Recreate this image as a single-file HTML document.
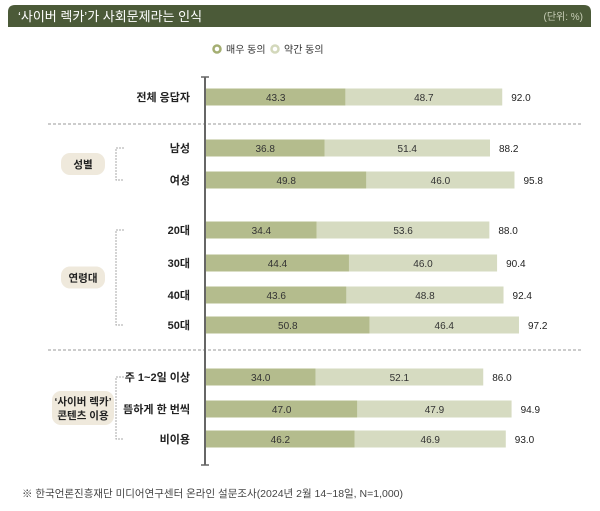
<!DOCTYPE html>
<html><head><meta charset="utf-8"><style>
body{margin:0;background:#fff;font-family:"Liberation Sans","Noto Sans CJK KR",sans-serif;}
svg text{font-family:"Liberation Sans","Noto Sans CJK KR",sans-serif;}
</style></head><body>
<svg width="600" height="506">
<path d="M8,27 L8,12 Q8,5 15,5 L584,5 Q591,5 591,12 L591,27 Z" fill="#4b5a38"/>
<text x="18" y="21" font-size="13" fill="#fff">‘사이버 렉카’가 사회문제라는 인식</text>
<text x="583" y="20" font-size="10" fill="#c9cfb8" text-anchor="end">(단위: %)</text>
<g>
<circle cx="217" cy="49" r="3.5" fill="none" stroke="#a4ae72" stroke-width="2.5"/>
<text x="226" y="53" font-size="10" fill="#333">매우 동의</text>
<circle cx="275" cy="49" r="3.5" fill="none" stroke="#d3d8bb" stroke-width="2.5"/>
<text x="284" y="53" font-size="10" fill="#333">약간 동의</text>
</g>
<g id="bars"></g>
<g id="deco"></g>
<line x1="205" y1="77" x2="205" y2="465" stroke="#666" stroke-width="2"/>
<line x1="201" y1="77" x2="209" y2="77" stroke="#666" stroke-width="1.5"/>
<line x1="201" y1="465" x2="209" y2="465" stroke="#666" stroke-width="1.5"/>
<text x="22" y="497" font-size="10.5" fill="#444">※ 한국언론진흥재단 미디어연구센터 온라인 설문조사(2024년 2월 14~18일, N=1,000)</text>
</svg>
<script>
const categories=["전체 응답자","남성","여성","20대","30대","40대","50대","주 1~2일 이상","뜸하게 한 번씩","비이용"];
const strongAgree=[43.3,36.8,49.8,34.4,44.4,43.6,50.8,34.0,47.0,46.2];
const someAgree=[48.7,51.4,46.0,53.6,46.0,48.8,46.4,52.1,47.9,46.9];
const totals=[92.0,88.2,95.8,88.0,90.4,92.4,97.2,86.0,94.9,93.0];
const rowY=[97,148,180,230,263,295,325,377,409,439];
const x0=206, scale=3.22, bh=17;
const xs=v=>x0+v*scale;
const NS="http://www.w3.org/2000/svg";
const g=document.getElementById('bars');
function mk(tag,attrs,parent){const e=document.createElementNS(NS,tag);for(const k in attrs)e.setAttribute(k,attrs[k]);parent.appendChild(e);return e;}
categories.forEach((c,i)=>{
 const y=rowY[i];
 const t=mk('text',{x:190,y:y+4,'font-size':11,'font-weight':'bold',fill:'#222','text-anchor':'end'},g);
 t.textContent=c;
 
 
 const a=mk('rect',{x:x0,y:y-bh/2,width:xs(strongAgree[i])-x0,height:bh,fill:'#b4bc8d'},g);
 
 
 const b=mk('rect',{x:xs(strongAgree[i]),y:y-bh/2,width:someAgree[i]*scale,height:bh,fill:'#d6dbc1'},g);
 
 
 const ta=mk('text',{x:(x0+xs(strongAgree[i]))/2,y:y+4,'font-size':10,fill:'#333','text-anchor':'middle'},g);
 ta.textContent=strongAgree[i].toFixed(1);
 
 
 const tb=mk('text',{x:xs(strongAgree[i]+someAgree[i]/2),y:y+4,'font-size':10,fill:'#333','text-anchor':'middle'},g);
 tb.textContent=someAgree[i].toFixed(1);
 
 
 const tt=mk('text',{x:xs(strongAgree[i]+someAgree[i])+9,y:y+4,'font-size':10,fill:'#222'},g);
 tt.textContent=totals[i].toFixed(1);
 
 
});
const d=document.getElementById('deco');
[124,350].forEach(y=>{
 const l=mk('line',{x1:48,y1:y,x2:582,y2:y,stroke:'#999','stroke-dasharray':'3,2','stroke-width':1},d);
 
 
});
const groups=[{lines:["성별"],y1:148,y2:180},{lines:["연령대"],y1:230,y2:325},{lines:["‘사이버 렉카’","콘텐츠 이용"],y1:377,y2:439}];
groups.forEach(gr=>{
 const p=mk('path',{d:`M124,${gr.y1} L116,${gr.y1} L116,${gr.y2} L124,${gr.y2}`,fill:'none',stroke:'#aaa','stroke-dasharray':'2,1'},d);
 
 
 const cy=(gr.y1+gr.y2)/2, h=gr.lines.length>1?34:22, w=gr.lines.length>1?62:44;
 const r=mk('rect',{x:83-w/2,y:cy-h/2,width:w,height:h,rx:9,fill:'#efe9dc'},d);
 
 
 gr.lines.forEach((s,k)=>{
  const t=mk('text',{x:83,y:cy+4+(k-(gr.lines.length-1)/2)*14,'font-size':10.5,'font-weight':'bold',fill:'#222','text-anchor':'middle'},d);
  t.textContent=s;
  
  
 });
});
</script>
</body></html>
